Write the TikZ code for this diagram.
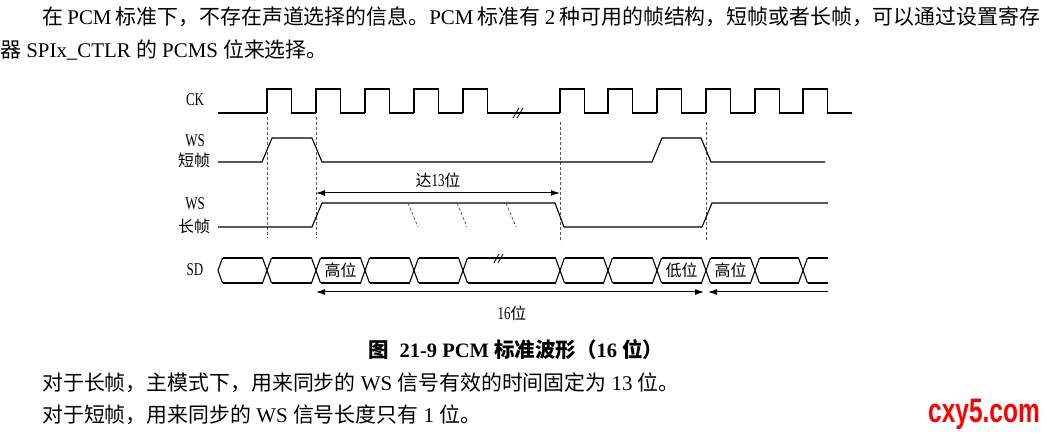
\documentclass[tikz,border=0pt]{standalone}
\usepackage{fontspec}
\setmainfont{Liberation Serif}
\newfontfamily\zhfont{Noto Sans CJK SC}
\newfontfamily\narrowfont[FakeStretch=0.72]{Liberation Serif}
\newfontfamily\markfont[FakeStretch=0.72]{Liberation Sans}
\newcommand{\zh}[1]{{\zhfont\fontsize{16}{18}\selectfont #1}}
\newcommand{\zhb}[1]{{\zhfont #1}}
\usetikzlibrary{arrows.meta}
\tikzset{
  wave/.style={line width=1.1pt},
  guide/.style={line width=0.8pt, black!65, dash pattern=on 3pt off 2pt},
  span/.style={line width=1pt, {Latex[length=9pt,width=6pt]}-{Latex[length=9pt,width=6pt]}},
  siglabel/.style={font=\fontsize{18}{20}\selectfont\narrowfont},
  body/.style={anchor=west, inner sep=0pt, font=\fontsize{20.9}{24}\selectfont},
}
\begin{document}
\begin{tikzpicture}[x=1pt,y=-1pt]
    \useasboundingbox (0,0) rectangle (1047,435);
    % text above
    \node[body] (para1) at (42,17) {\makebox[998pt][s]{\zhb{在} PCM \zhb{标准下，不存在声道选择的信息。}PCM \zhb{标准有} 2 \zhb{种可用的帧结构，短帧或者长帧，可以通过设置寄存}}};
    \node[body] (para2) at (0,50) {\zhb{器} SPIx\_CTLR \zhb{的} PCMS \zhb{位来选择。}};
    % signal names
    \node[siglabel] (ck) at (195,100) {CK};
    \node[siglabel] (ws1) at (195,141) {WS};
    \node[siglabel] (short) at (194,160) {\zh{短帧}};
    \node[siglabel] (ws2) at (195,204) {WS};
    \node[siglabel] (long) at (194,226) {\zh{长帧}};
    \node[siglabel] (sd) at (195,270) {SD};
    % clock
    \draw[wave] (218,113) -- (267,113);
    \draw[wave] (487,113) -- (560,113);
    \foreach \x in {267,316,365,414,463,560,608,657,706,755,803}
        \draw[wave] (\x,113) -- (\x,89) -- (\x+24.5,89) -- (\x+24.5,113) -- (\x+49,113);
    \draw[line width=0.8pt] (513,118) -- (519,108) (517,118) -- (523,108);
    % guides
    \draw[guide] (267,117) -- (267,238);
    \draw[guide] (316,117) -- (316,238);
    \draw[guide] (560,122) -- (560,242);
    \draw[guide] (706,122) -- (706,242);
    % WS short frame
    \draw[wave] (218,162) -- (262,162) -- (272,138) -- (312,138) -- (322,162) -- (652,162)
        -- (662,138) -- (701,138) -- (711,162) -- (825,162);
    % WS long frame
    \draw[wave] (218,227) -- (312,227) -- (322,203) -- (555,203) -- (564,227) -- (702,227)
        -- (712,203) -- (828,203);
    \foreach \x in {408,457,506}
        \draw[guide] (\x,203) -- (\x+10,227);
    \coordinate (l13) at (316,193);
    \coordinate (r13) at (560,193);
    \draw[span] (l13) -- (r13) node[midway, above=1pt, siglabel] (up13) {\zh{达}13\zh{位}};
    % SD bus
    \draw[wave] (222.5,258) -- (218,270.5) -- (222.5,283);
    \draw[wave] (222.5,258) -- (262.5,258) (222.5,283) -- (262.5,283);
    \foreach \c in {267,316,365,414,463,560,608,657,706,755,803}
        \draw[wave] (\c-4.5,258) -- (\c+4.5,283) (\c-4.5,283) -- (\c+4.5,258);
    \foreach \a/\b in {267/316,316/365,365/414,414/463,463/560,560/608,608/657,657/706,706/755,755/803}
        \draw[wave] (\a+4.5,258) -- (\b-4.5,258) (\a+4.5,283) -- (\b-4.5,283);
    \draw[wave] (807.5,258) -- (828,258) (807.5,283) -- (828,283);
    \draw[line width=0.8pt] (494,263) -- (499,254) (498,263) -- (503,254);
    \node[siglabel] (hi1) at (340.5,270.5) {\zh{高位}};
    \node[siglabel] (lo) at (681.5,270.5) {\zh{低位}};
    \node[siglabel] (hi2) at (730.5,270.5) {\zh{高位}};
    \coordinate (l16) at (316,292);
    \coordinate (m16) at (706,292);
    \coordinate (r16) at (828,292);
    \draw[span] (l16) -- ([xshift=-2pt]m16);
    \draw[line width=1pt, {Latex[length=9pt,width=6pt]}-] ([xshift=2pt]m16) -- (r16);
    \node[siglabel] (bits) at (512,313) {16\zh{位}};
    % caption and text below
    \node[font=\fontsize{20.5}{22}\selectfont\bfseries] (caption) at (516,350) {\zhb{图}\ \ 21-9 PCM \zhb{标准波形（}16 \zhb{位）}};
    \node[body] (para3) at (42,383) {\zhb{对于长帧，主模式下，用来同步的} WS \zhb{信号有效的时间固定为} 13 \zhb{位。}};
    \node[body] (para4) at (42,415) {\zhb{对于短帧，用来同步的} WS \zhb{信号长度只有} 1 \zhb{位。}};
    \node[text=red, font=\markfont\bfseries\fontsize{34}{36}\selectfont] (mark) at (984,414) {cxy5.com};
\end{tikzpicture}
\end{document}
